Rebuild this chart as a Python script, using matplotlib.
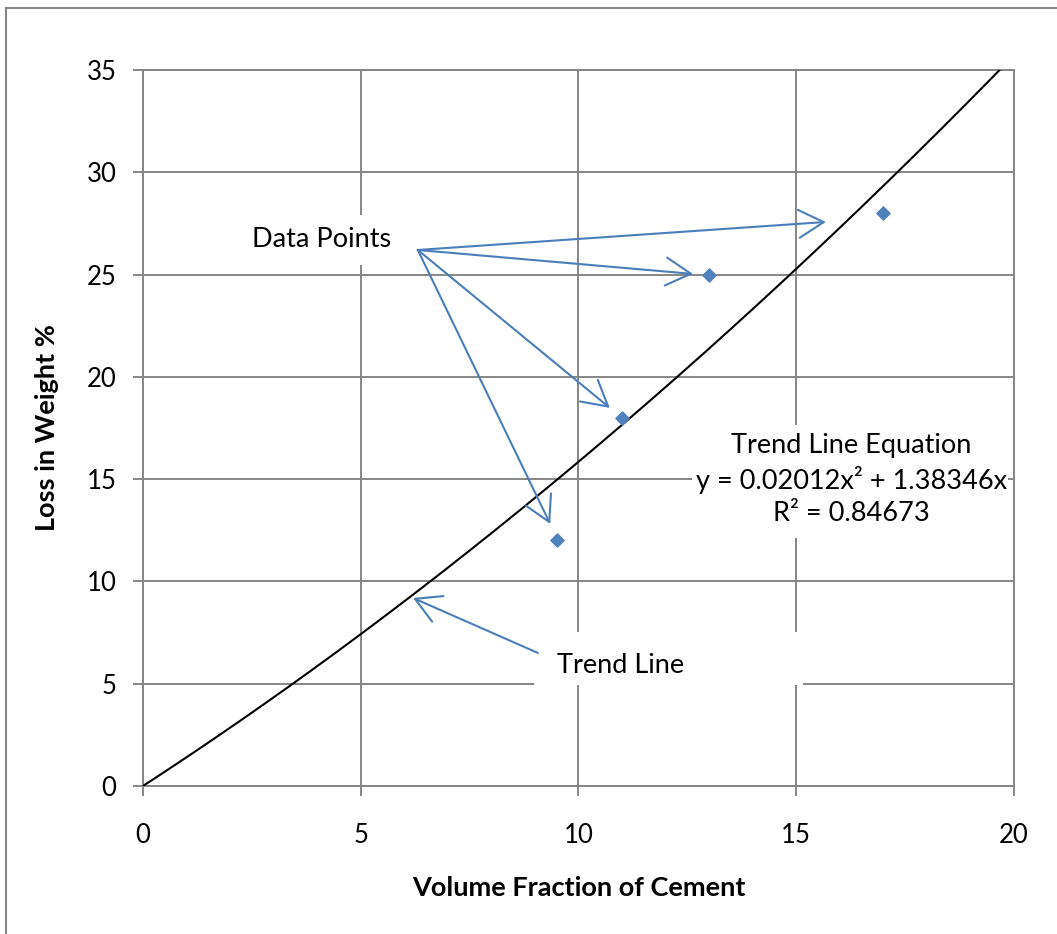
import numpy as np
import matplotlib.pyplot as plt
from matplotlib.patches import Rectangle

# measured points
vol_fraction = [9.5, 11, 13, 17]
loss_weight = [12, 18, 25, 28]

# quadratic trend through origin
coef_a = 0.02012
coef_b = 1.38346
r2 = 0.84673

x_ticks = [0, 5, 10, 15, 20]
y_ticks = [0, 5, 10, 15, 20, 25, 30, 35]

gray = '#868686'
blue = '#4a7ebb'

plt.rcParams['font.family'] = ['Lato', 'DejaVu Sans']

fig = plt.figure(figsize=(10.57, 9.34), dpi=100)
ax = fig.add_axes([0.1353, 0.1585, 0.9593 - 0.1353, 0.9251 - 0.1585])

# outer chart border (right/bottom run off the picture)
fig.patches.append(Rectangle((0.0057, -0.1), 1.2, 0.9914 + 0.1, transform=fig.transFigure,
                             fill=False, edgecolor=gray, lw=1.5, clip_on=False))

x_fit = np.linspace(0, 20, 400)
y_fit = coef_a * x_fit**2 + coef_b * x_fit
ax.plot(x_fit, y_fit, color='black', lw=1.5, zorder=3)

ax.scatter(vol_fraction, loss_weight, marker='D', s=45, color='#4f81bd', zorder=4)

ax.set_xlim(0, 20)
ax.set_ylim(0, 35)
ax.set_xticks(x_ticks)
ax.set_yticks(y_ticks)
ax.grid(True, color=gray, lw=1.4)
for sp in ax.spines.values():
    sp.set_color(gray)
    sp.set_linewidth(1.4)
ax.tick_params(direction='out', length=7, width=1.4, color=gray, labelsize=18.5)
ax.tick_params(axis='x', pad=20)
ax.tick_params(axis='y', pad=12)

ax.set_xlabel('Volume Fraction of Cement', fontsize=19.5, fontweight='bold', labelpad=20)
ax.set_ylabel('Loss in Weight %', fontsize=19.5, fontweight='bold', labelpad=20)

# white label boxes over the grid
ax.add_patch(Rectangle((2.0, 25.47), 4.13, 2.44, facecolor='white', edgecolor='none', zorder=2))
ax.add_patch(Rectangle((8.98, 4.94), 6.18, 2.59, facecolor='white', edgecolor='none', zorder=2))
ax.add_patch(Rectangle((12.61, 12.12), 7.25, 5.53, facecolor='white', edgecolor='none', zorder=2))

ax.text(4.11, 26.69, 'Data Points', fontsize=19.5, ha='center', va='center', zorder=5)
ax.text(9.51, 5.91, 'Trend Line', fontsize=19.5, ha='left', va='center', zorder=5)
ax.text(16.26, 14.96, 'Trend Line Equation\ny = %.5fx\u00b2 + %.5fx\nR\u00b2 = %.5f' % (coef_a, coef_b, r2),
        fontsize=19.5, ha='center', va='center', linespacing=1.35, zorder=5)

arrow = dict(arrowstyle='->,head_length=0.75,head_width=0.42', color=blue, lw=1.5,
             mutation_scale=24, shrinkA=0, shrinkB=0)
start = (6.31, 26.2)
for end in [(15.68, 27.57), (12.63, 25.03), (10.72, 18.48), (9.35, 12.81)]:
    ax.annotate('', xy=end, xytext=start, arrowprops=arrow, zorder=5)
ax.annotate('', xy=(6.20, 9.19), xytext=(9.07, 6.50), arrowprops=arrow, zorder=5)

fig.savefig('out.png', dpi=100)
